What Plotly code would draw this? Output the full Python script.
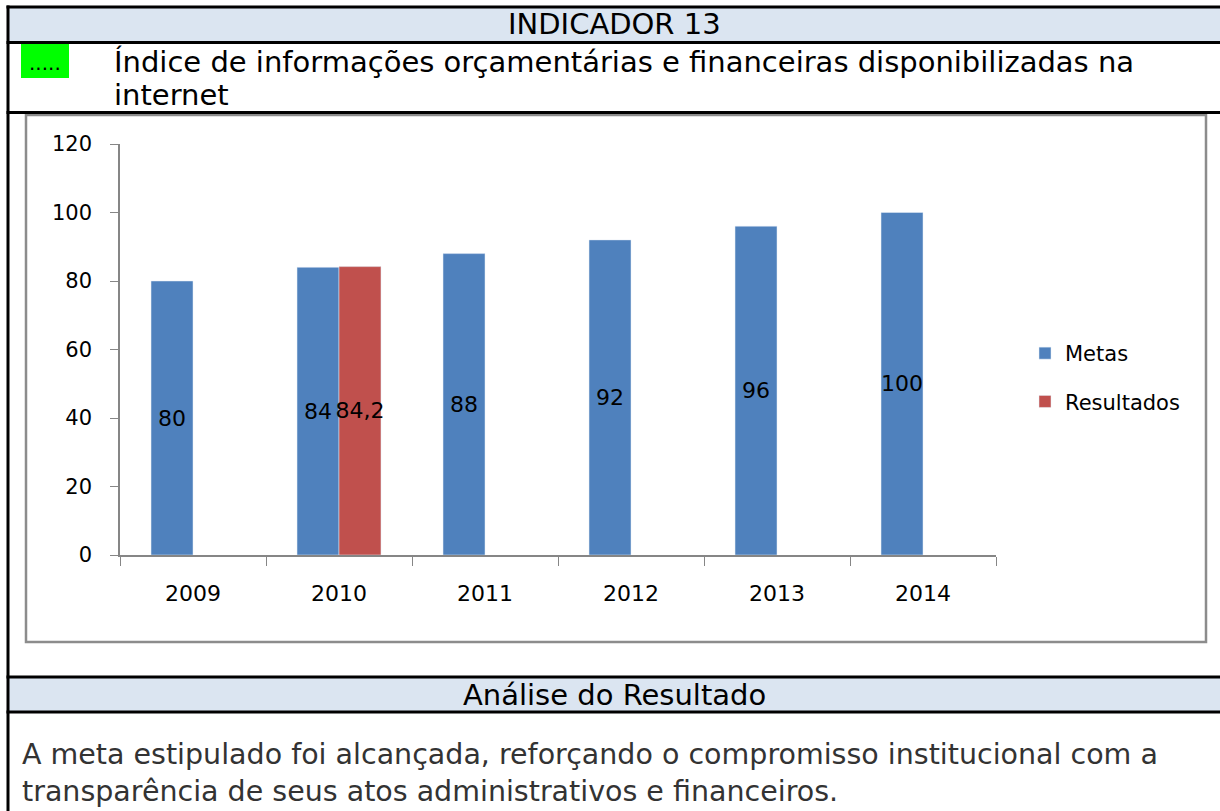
import plotly.graph_objects as go

years = ["2009", "2010", "2011", "2012", "2013", "2014"]
metas = [80, 84, 88, 92, 96, 100]
res_years = ["2010"]
resultados = [84.2]
y_ticks = [0, 20, 40, 60, 80, 100, 120]

W, H = 1220, 811
def px(x): return x / W
def py(y): return 1 - y / H

FONT = "DejaVu Sans"

fig = go.Figure()
fig.add_trace(go.Bar(
    x=years, y=metas, name="Metas", marker_color="#4F81BD", legendgroup="a",
    texttemplate="%{y}", textposition="inside", insidetextanchor="middle",
    constraintext="none", textangle=0,
    insidetextfont=dict(family=FONT, size=22, color="black"),
))
fig.add_trace(go.Bar(
    x=res_years, y=resultados, name="Resultados", marker_color="#C0504D", legendgroup="b",
    texttemplate="%{y}", textposition="inside", insidetextanchor="middle",
    constraintext="none", textangle=0,
    insidetextfont=dict(family=FONT, size=22, color="black"),
))

shapes = []
shapes.append(dict(type="rect", xref="paper", yref="paper", x0=px(8), x1=px(1220), y0=py(42), y1=py(7),
                   fillcolor="#DBE5F1", line_width=0, layer="below"))
shapes.append(dict(type="rect", xref="paper", yref="paper", x0=px(8), x1=px(1220), y0=py(712), y1=py(677),
                   fillcolor="#DBE5F1", line_width=0, layer="below"))
shapes.append(dict(type="rect", xref="paper", yref="paper", x0=px(21), x1=px(69), y0=py(78), y1=py(44),
                   fillcolor="#00FF00", line_width=0, layer="below"))
shapes.append(dict(type="rect", xref="paper", yref="paper", x0=px(26), x1=px(1206), y0=py(642), y1=py(115),
                   fillcolor="white", line=dict(color="#8C8C8C", width=2.5), layer="below"))
for yy in [7, 42.5, 112.5, 677, 712]:
    shapes.append(dict(type="line", xref="paper", yref="paper", x0=px(6.5), x1=px(1220), y0=py(yy), y1=py(yy),
                       line=dict(color="black", width=3)))
shapes.append(dict(type="line", xref="paper", yref="paper", x0=px(8), x1=px(8), y0=py(5.5), y1=py(811),
                   line=dict(color="black", width=3)))

annotations = [
    dict(text="INDICADOR 13", x=px(614), y=py(24), xref="paper", yref="paper", showarrow=False,
         xanchor="center", yanchor="middle", font=dict(family=FONT, size=29, color="black")),
    dict(text=".....", x=px(45), y=py(63), xref="paper", yref="paper", showarrow=False,
         xanchor="center", yanchor="middle", font=dict(family=FONT, size=20, color="black")),
    dict(text="Índice de informações orçamentárias e financeiras disponibilizadas na", x=px(112), y=py(62),
         xref="paper", yref="paper", showarrow=False, xanchor="left", yanchor="middle",
         font=dict(family=FONT, size=29, color="black")),
    dict(text="internet", x=px(112), y=py(95), xref="paper", yref="paper", showarrow=False,
         xanchor="left", yanchor="middle", font=dict(family=FONT, size=29, color="black")),
    dict(text="Análise do Resultado", x=px(614), y=py(695), xref="paper", yref="paper", showarrow=False,
         xanchor="center", yanchor="middle", font=dict(family=FONT, size=29, color="black")),
    dict(text="A meta estipulado foi alcançada, reforçando o compromisso institucional com a<br>"
              "transparência de seus atos administrativos e financeiros.",
         x=px(20), y=py(810), xref="paper", yref="paper", showarrow=False, xanchor="left", yanchor="bottom",
         align="left", font=dict(family=FONT, size=28.5, color="#333333")),
]

fig.update_layout(
    width=W, height=H, margin=dict(l=0, r=0, t=0, b=0, autoexpand=False),
    paper_bgcolor="white", plot_bgcolor="rgba(0,0,0,0)",
    separators=",.",
    barmode="group", bargap=0.425, bargroupgap=0,
    font=dict(family=FONT, size=21, color="black"),
    shapes=shapes, annotations=annotations,
    legend=dict(x=px(1025), y=py(333), xanchor="left", yanchor="top", tracegroupgap=18,
                font=dict(family=FONT, size=21, color="black"), bgcolor="rgba(0,0,0,0)"),
    xaxis=dict(domain=[px(120), px(996)], showline=True, linecolor="#868686", linewidth=1.5,
               ticks="outside", tickson="boundaries", ticklen=9, tickcolor="#868686",
               tickfont=dict(family=FONT, size=22, color="black"), ticklabelstandoff=18,
               showgrid=False, zeroline=False),
    yaxis=dict(domain=[py(555), py(144)], range=[0, 120], tickvals=y_ticks, showline=True,
               linecolor="#868686", linewidth=1.5, ticks="outside", ticklen=8, tickcolor="#868686",
               tickfont=dict(family=FONT, size=21, color="black"), ticklabelstandoff=14,
               showgrid=False, zeroline=False),
)

post = (
    "document.documentElement.style.margin='0';document.documentElement.style.padding='0';"
    "document.body.style.margin='0';document.body.style.padding='0';document.body.style.overflow='hidden';"
    "var gd=document.getElementById('{plot_id}');"
    "gd.style.position='absolute';gd.style.top='0px';gd.style.left='0px';"
)
fig.write_html("out.html", config={"displayModeBar": False}, post_script=post)
